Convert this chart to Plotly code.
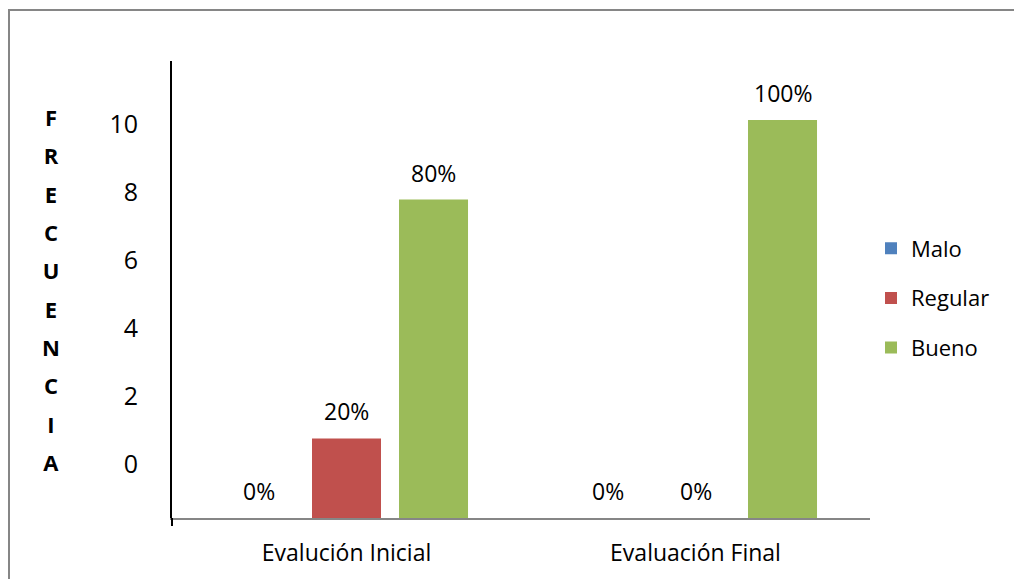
import plotly.graph_objects as go

categories = ["Evalución Inicial", "Evaluación Final"]
series_names = ["Malo", "Regular", "Bueno"]
malo = [0, 0]
regular = [2, 0]
bueno = [8, 10]
pct_malo = ["0%", "0%"]
pct_regular = ["20%", "0%"]
pct_bueno = ["80%", "100%"]
y_tick_vals = [0, 2, 4, 6, 8, 10]
y_tick_labels = ["0", "2", "4", "6", "8", "10"]
axis_title_letters = list("FRECUENCIA")
colors = ["#4F81BD", "#C0504D", "#9BBB59"]

FONT = "Open Sans"
W, H = 1014, 579
L, R, T, B = 172, 144, 61, 61
PW, PH = W - L - R, H - T - B

values = [malo, regular, bueno]
pcts = [pct_malo, pct_regular, pct_bueno]

fig = go.Figure()
for name, vals, col in zip(series_names, values, colors):
    fig.add_trace(go.Bar(name=name, x=categories, y=vals, marker=dict(color=col, line=dict(width=0)),
                         legendgroup=name, hoverinfo="skip"))

# invisible carrier trace so the frequency tick axis is drawn
fig.add_trace(go.Scatter(x=categories, y=[min(y_tick_vals), max(y_tick_vals)], yaxis="y2",
                         mode="markers", marker=dict(opacity=0), showlegend=False, hoverinfo="skip"))

bargap = 0.252
slot = PW / len(categories) * (1 - bargap) / len(series_names)
annotations = []
for i, (p, vals) in enumerate(zip(pcts, values)):
    for c, txt, v in zip(categories, p, vals):
        annotations.append(dict(x=c, y=v, xref="x", yref="y", text=txt, showarrow=False,
                                xshift=(i - 1) * slot, yshift=27, yanchor="middle",
                                font=dict(family=FONT, size=23, color="black")))

title_txt = "<br>".join(f"<b><span style='font-size:22px'>{ch}</span></b>" for ch in axis_title_letters)
annotations.append(dict(x=(51 - L) / PW, y=(H - B - 289) / PH, xref="paper", yref="paper",
                        text=title_txt, showarrow=False, xanchor="center", yanchor="middle",
                        font=dict(family=FONT, size=29.5, color="black")))

fig.update_layout(
    width=W, height=H,
    margin=dict(l=L, r=R, t=T, b=B, pad=0),
    paper_bgcolor="white", plot_bgcolor="white",
    barmode="group", bargap=bargap, bargroupgap=0.207,
    font=dict(family=FONT, color="black"),
    xaxis=dict(showline=True, linecolor="#868686", linewidth=1.5, showgrid=False, ticks="",
               tickfont=dict(family=FONT, size=23, color="black"), ticklabelstandoff=14,
               fixedrange=True),
    yaxis=dict(range=[0, PH / 39.8], showline=True, linecolor="black", linewidth=2,
               showgrid=False, zeroline=False, showticklabels=False, ticks=""),
    yaxis2=dict(overlaying="y", side="left", range=[-54 / 34, (464 - T) / 34],
                tickvals=y_tick_vals, ticktext=y_tick_labels, showline=False, showgrid=False,
                zeroline=False, ticks="", ticklabelstandoff=33,
                tickfont=dict(family=FONT, size=25, color="black")),
    legend=dict(x=(871 - L) / PW, y=(H - B - 298) / PH, xanchor="left", yanchor="middle",
                font=dict(family=FONT, size=22, color="black"), tracegroupgap=18,
                bgcolor="rgba(0,0,0,0)"),
    annotations=annotations,
    shapes=[
        dict(type="line", xref="paper", yref="paper", x0=0, x1=0, y0=0, y1=-8 / PH,
             line=dict(color="black", width=2)),
        dict(type="rect", xref="paper", yref="paper", x0=(9 - L) / PW, y0=-0.3,
             x1=1.4, y1=(H - B - 10) / PH, line=dict(color="#868686", width=2),
             fillcolor="rgba(0,0,0,0)", layer="below"),
    ],
    showlegend=True,
)

fig.write_html("out.html")
